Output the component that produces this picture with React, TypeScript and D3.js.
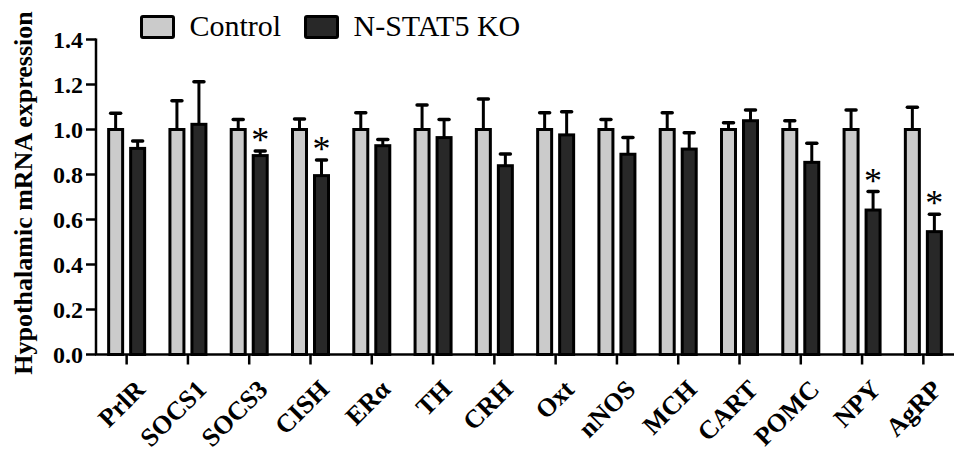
import React, { useEffect, useRef } from "react";
import * as d3 from "d3";

const categories = ["PrlR", "SOCS1", "SOCS3", "CISH", "ERα", "TH", "CRH", "Oxt", "nNOS", "MCH", "CART", "POMC", "NPY", "AgRP"];
const controlMean = [1.0, 1.0, 1.0, 1.0, 1.0, 1.0, 1.0, 1.0, 1.0, 1.0, 1.0, 1.0, 1.0, 1.0];
const controlErr = [0.072, 0.128, 0.045, 0.047, 0.075, 0.109, 0.136, 0.075, 0.045, 0.075, 0.03, 0.039, 0.087, 0.099];
const koMean = [0.916, 1.023, 0.884, 0.795, 0.928, 0.964, 0.839, 0.976, 0.89, 0.913, 1.039, 0.854, 0.642, 0.546];
const koErr = [0.033, 0.189, 0.02, 0.069, 0.028, 0.081, 0.052, 0.103, 0.075, 0.073, 0.048, 0.085, 0.082, 0.077];
const significant = [false, false, true, true, false, false, false, false, false, false, false, false, true, true];
const yTicks = [0, 0.2, 0.4, 0.6, 0.8, 1.0, 1.2, 1.4];
const groups = ["Control", "N-STAT5 KO"];

const FONT = "'Liberation Serif', 'Times New Roman', serif";
const fills: Record<string, string> = { Control: "#cbcbcb", "N-STAT5 KO": "#282828" };

export default function App() {
  const ref = useRef<SVGSVGElement>(null);

  useEffect(() => {
    const width = 955;
    const height = 454;
    const svg = d3.select(ref.current).attr("width", width).attr("height", height);
    svg.selectAll("*").remove();

    const x0 = 96;
    const x1 = 954;
    const yTop = 39.5;
    const yBot = 354.5;

    const x = d3.scaleBand<string>().domain(categories).range([x0, x1]).padding(0);
    const sub = d3.scaleBand<string>().domain(groups).range([-18, 18]).paddingInner(0.364).paddingOuter(0);
    const y = d3.scaleLinear().domain([0, 1.4]).range([yBot, yTop]);

    const rows = categories.map((c, i) => ({
      cat: c,
      vals: [
        { g: groups[0], mean: controlMean[i], err: controlErr[i], sig: false },
        { g: groups[1], mean: koMean[i], err: koErr[i], sig: significant[i] },
      ],
    }));

    const cx = (c: string) => (x(c) as number) + x.bandwidth() / 2;
    const bx = (g: string) => (sub(g) as number) + sub.bandwidth() / 2;

    const grp = svg
      .append("g")
      .selectAll("g")
      .data(rows)
      .join("g")
      .attr("transform", (d) => `translate(${cx(d.cat)},0)`);

    const bar = grp
      .selectAll("g.b")
      .data((d) => d.vals)
      .join("g")
      .attr("class", "b");

    // error bars (upper only)
    bar
      .append("line")
      .attr("x1", (d) => bx(d.g))
      .attr("x2", (d) => bx(d.g))
      .attr("y1", (d) => y(d.mean))
      .attr("y2", (d) => y(d.mean + d.err))
      .attr("stroke", "#000")
      .attr("stroke-width", 3);
    bar
      .append("line")
      .attr("x1", (d) => bx(d.g) - 5)
      .attr("x2", (d) => bx(d.g) + 5)
      .attr("y1", (d) => y(d.mean + d.err))
      .attr("y2", (d) => y(d.mean + d.err))
      .attr("stroke", "#000")
      .attr("stroke-width", 3.5)
      .attr("stroke-linecap", "round");

    bar
      .append("rect")
      .attr("x", (d) => sub(d.g) as number)
      .attr("y", (d) => y(d.mean))
      .attr("width", sub.bandwidth())
      .attr("height", (d) => y(0) - y(d.mean))
      .attr("fill", (d) => fills[d.g])
      .attr("stroke", "#000")
      .attr("stroke-width", 3);

    // significance marks
    bar
      .filter((d) => d.sig)
      .append("text")
      .attr("x", (d) => bx(d.g))
      .attr("y", (d) => y(d.mean + d.err) + 1)
      .attr("text-anchor", "middle")
      .attr("font-family", FONT)
      .attr("font-size", 36)
      .attr("fill", "#000")
      .text("*");

    // y axis
    const yAxis = svg.append("g");
    yAxis
      .append("line")
      .attr("x1", x0)
      .attr("x2", x0)
      .attr("y1", yTop - 1)
      .attr("y2", yBot)
      .attr("stroke", "#000")
      .attr("stroke-width", 2.5);
    yAxis
      .selectAll("line.t")
      .data(yTicks)
      .join("line")
      .attr("class", "t")
      .attr("x1", x0 - 10)
      .attr("x2", x0)
      .attr("y1", (d) => y(d))
      .attr("y2", (d) => y(d))
      .attr("stroke", "#000")
      .attr("stroke-width", 2.5);
    yAxis
      .selectAll("text")
      .data(yTicks)
      .join("text")
      .attr("x", x0 - 13)
      .attr("y", (d) => y(d))
      .attr("dy", "0.35em")
      .attr("text-anchor", "end")
      .attr("font-family", FONT)
      .attr("font-weight", "bold")
      .attr("font-size", 24)
      .text((d) => d3.format(".1f")(d));

    // x axis
    const xAxis = svg.append("g");
    xAxis
      .append("line")
      .attr("x1", x0 - 1)
      .attr("x2", x1)
      .attr("y1", yBot)
      .attr("y2", yBot)
      .attr("stroke", "#000")
      .attr("stroke-width", 2.5);
    xAxis
      .selectAll("line.t")
      .data(categories)
      .join("line")
      .attr("class", "t")
      .attr("x1", (d) => cx(d))
      .attr("x2", (d) => cx(d))
      .attr("y1", yBot)
      .attr("y2", yBot + 10)
      .attr("stroke", "#000")
      .attr("stroke-width", 2.5);
    xAxis
      .selectAll("text")
      .data(categories)
      .join("text")
      .attr("transform", (d) => `translate(${cx(d) + 20},391) rotate(-45)`)
      .attr("text-anchor", "end")
      .attr("font-family", FONT)
      .attr("font-weight", "bold")
      .attr("font-size", 26)
      .text((d) => d);

    // y label
    svg
      .append("text")
      .attr("transform", `translate(32,193) rotate(-90)`)
      .attr("text-anchor", "middle")
      .attr("font-family", FONT)
      .attr("font-weight", "bold")
      .attr("font-size", 26)
      .text("Hypothalamic mRNA expression");

    // legend
    const lg = svg.append("g");
    const legendX = [141.5, 305.5];
    groups.forEach((g, i) => {
      lg.append("rect")
        .attr("x", legendX[i])
        .attr("y", 16.5)
        .attr("width", 32)
        .attr("height", 21)
        .attr("rx", 1.5)
        .attr("fill", fills[g])
        .attr("stroke", "#000")
        .attr("stroke-width", 3);
      lg.append("text")
        .attr("x", legendX[i] + 48)
        .attr("y", 36)
        .attr("font-family", FONT)
        .attr("font-size", 30)
        .attr("fill", "#000")
        .text(g);
    });
  }, []);

  return <svg ref={ref} style={{ position: "absolute", left: 0, top: 0, background: "#fff" }} />;
}
